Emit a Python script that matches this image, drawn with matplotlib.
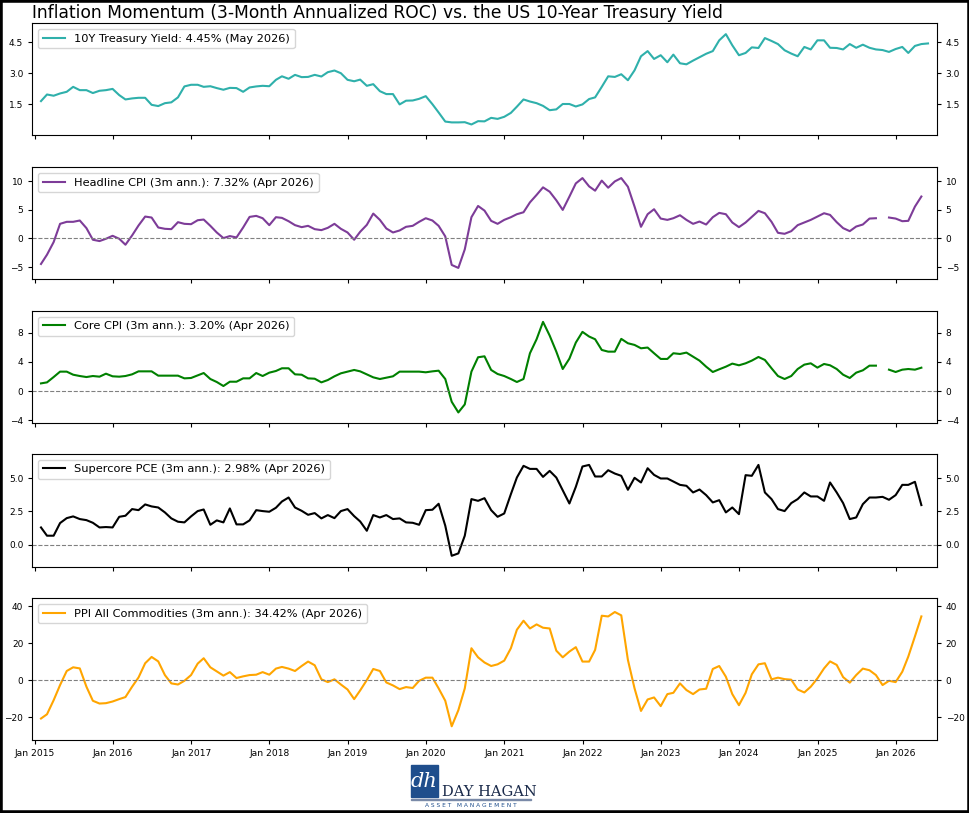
import numpy as np
import pandas as pd
import matplotlib
matplotlib.use('Agg')
import matplotlib.pyplot as plt
import matplotlib.dates as mdates
from matplotlib.patches import Rectangle

nan = np.nan

# month-end dates
dates_ust = pd.date_range('2015-01-31', periods=137, freq='ME')
dates_inf = pd.date_range('2015-01-31', periods=136, freq='ME')

# 10Y treasury yield, month end
ust10 = [1.66, 1.98, 1.92, 2.03, 2.11, 2.35, 2.19, 2.19, 2.05, 2.16, 2.19, 2.25,
         1.95, 1.74, 1.79, 1.82, 1.82, 1.48, 1.42, 1.56, 1.60, 1.84, 2.37, 2.45,
         2.45, 2.35, 2.38, 2.29, 2.21, 2.30, 2.29, 2.11, 2.32, 2.37, 2.40, 2.38,
         2.69, 2.86, 2.74, 2.93, 2.82, 2.83, 2.93, 2.85, 3.06, 3.14, 3.01, 2.69,
         2.62, 2.70, 2.40, 2.48, 2.14, 2.00, 2.00, 1.50, 1.68, 1.69, 1.77, 1.90,
         1.51, 1.11, 0.67, 0.63, 0.63, 0.64, 0.53, 0.69, 0.68, 0.85, 0.80, 0.90,
         1.09, 1.39, 1.74, 1.64, 1.56, 1.43, 1.22, 1.26, 1.52, 1.52, 1.40, 1.50,
         1.76, 1.84, 2.35, 2.86, 2.83, 2.96, 2.67, 3.15, 3.83, 4.08, 3.70, 3.88,
         3.54, 3.91, 3.49, 3.44, 3.62, 3.78, 3.95, 4.08, 4.60, 4.90, 4.36, 3.88,
         3.99, 4.26, 4.23, 4.71, 4.57, 4.42, 4.12, 3.96, 3.83, 4.28, 4.16, 4.60,
         4.60, 4.24, 4.23, 4.16, 4.42, 4.24, 4.39, 4.24, 4.16, 4.13, 4.04, 4.18,
         4.28, 3.99, 4.33, 4.42, 4.45]

# headline CPI, 3m annualized
cpi = [-4.46, -2.84, -0.64, 2.55, 2.90, 2.90, 3.13, 1.80, -0.23, -0.46, -0.06, 0.46,
       -0.06, -1.10, 0.52, 2.26, 3.82, 3.65, 1.91, 1.68, 1.62, 2.84, 2.55, 2.49,
       3.18, 3.30, 2.20, 1.04, 0.06, 0.41, 0.17, 1.91, 3.76, 3.94, 3.53, 2.32,
       3.71, 3.59, 3.01, 2.32, 1.97, 2.20, 1.62, 1.45, 1.85, 2.55, 1.68, 1.04,
       -0.23, 1.16, 2.37, 4.34, 3.24, 1.74, 1.04, 1.39, 2.03, 2.20, 2.90, 3.53,
       3.13, 2.20, 0.35, -4.63, -5.15, -1.91, 3.71, 5.67, 4.86, 3.07, 2.55, 3.24,
       3.71, 4.23, 4.57, 6.30, 7.60, 8.92, 8.16, 6.66, 4.98, 7.30, 9.61, 10.54,
       9.09, 8.34, 10.10, 8.86, 9.96, 10.54, 9.03, 5.56, 2.03, 4.23, 5.10, 3.47,
       3.24, 3.53, 4.05, 3.24, 2.55, 2.95, 2.43, 3.71, 4.46, 4.23, 2.78, 1.97,
       2.78, 3.76, 4.81, 4.40, 2.90, 0.98, 0.81, 1.27, 2.32, 2.78, 3.24, 3.82,
       4.40, 4.11, 2.84, 1.80, 1.27, 2.08, 2.43, 3.47, 3.53, nan, 3.65, 3.47,
       3.01, 3.07, 5.56, 7.32]

# core CPI, 3m annualized
core = [1.05, 1.19, 1.92, 2.66, 2.66, 2.24, 2.06, 1.92, 2.06, 1.97, 2.38, 2.02,
        1.97, 2.06, 2.29, 2.70, 2.70, 2.70, 2.11, 2.11, 2.11, 2.11, 1.74, 1.79,
        2.15, 2.47, 1.65, 1.24, 0.69, 1.28, 1.28, 1.74, 1.74, 2.47, 2.06, 2.52,
        2.75, 3.12, 3.12, 2.29, 2.24, 1.74, 1.69, 1.19, 1.51, 2.02, 2.43, 2.66,
        2.89, 2.70, 2.29, 1.88, 1.65, 1.83, 2.02, 2.66, 2.66, 2.66, 2.66, 2.57,
        2.70, 2.79, 1.65, -1.47, -2.93, -1.83, 2.66, 4.63, 4.76, 2.89, 2.34, 2.06,
        1.65, 1.24, 1.65, 5.18, 7.10, 9.48, 7.60, 5.40, 3.02, 4.44, 6.64, 8.11,
        7.47, 7.10, 5.63, 5.40, 5.40, 7.15, 6.55, 6.32, 5.86, 5.96, 5.18, 4.40,
        4.40, 5.18, 5.08, 5.27, 4.72, 4.17, 3.34, 2.61, 2.98, 3.34, 3.76, 3.53,
        3.80, 4.17, 4.67, 4.26, 3.12, 2.06, 1.65, 2.06, 3.02, 3.62, 3.80, 3.21,
        3.71, 3.53, 3.02, 2.24, 1.79, 2.52, 2.84, 3.48, 3.48, nan, 2.93, 2.61,
        2.93, 3.02, 2.93, 3.20]

# supercore PCE, 3m annualized
supercore = [1.30, 0.68, 0.68, 1.63, 2.00, 2.13, 1.93, 1.85, 1.65, 1.30, 1.33, 1.30,
             2.10, 2.18, 2.68, 2.60, 3.03, 2.88, 2.80, 2.43, 1.98, 1.73, 1.68, 2.13,
             2.53, 2.65, 1.50, 1.83, 1.68, 2.73, 1.53, 1.53, 1.83, 2.60, 2.53, 2.48,
             2.78, 3.25, 3.55, 2.80, 2.55, 2.25, 2.38, 1.98, 2.23, 2.00, 2.53, 2.68,
             2.15, 1.75, 1.05, 2.23, 2.05, 2.23, 1.93, 1.98, 1.68, 1.65, 1.50, 2.60,
             2.63, 3.08, 1.43, -0.83, -0.65, 0.68, 3.43, 3.30, 3.50, 2.60, 2.10, 2.35,
             3.80, 5.05, 5.93, 5.70, 5.70, 5.10, 5.55, 5.05, 4.10, 3.10, 4.35, 5.88,
             6.00, 5.13, 5.13, 5.60, 5.35, 5.18, 4.13, 5.03, 4.68, 5.75, 5.25, 4.98,
             4.98, 4.75, 4.50, 4.43, 3.93, 4.15, 3.73, 3.18, 3.35, 2.43, 2.80, 2.30,
             5.23, 5.18, 6.00, 3.93, 3.43, 2.68, 2.53, 3.13, 3.43, 3.93, 3.63, 3.63,
             3.30, 4.68, 3.93, 3.13, 1.93, 2.05, 3.05, 3.55, 3.55, 3.60, 3.38, 3.73,
             4.50, 4.50, 4.73, 2.98]

# PPI all commodities, 3m annualized
ppi = [-20.8, -18.5, -10.9, -2.7, 4.9, 6.9, 6.3, -3.6, -11.2, -12.7, -12.5, -11.6,
       -10.3, -9.2, -3.6, 1.4, 9.1, 12.5, 10.1, 2.7, -1.8, -2.4, -0.4, 2.7,
       8.9, 11.8, 6.9, 4.7, 2.4, 4.3, 1.1, 2.0, 2.7, 2.9, 4.3, 2.9,
       6.2, 7.1, 6.2, 4.9, 7.6, 10.0, 8.0, 0.4, -1.1, 0.4, -2.4, -5.1,
       -10.3, -5.6, 0.0, 6.0, 4.9, -1.3, -2.9, -4.9, -3.8, -4.3, -0.4, 1.3,
       1.3, -4.5, -11.2, -25.0, -16.3, -4.5, 17.2, 12.3, 9.5, 7.6, 8.5, 10.5,
       17.2, 27.2, 32.1, 27.9, 30.1, 28.3, 27.9, 15.9, 12.3, 15.4, 17.8, 10.0,
       10.0, 16.3, 34.8, 34.4, 36.8, 35.0, 10.9, -4.5, -16.7, -10.5, -9.4, -14.1,
       -7.6, -6.9, -1.8, -5.4, -7.6, -5.1, -4.7, 6.0, 7.6, 1.8, -7.6, -13.6,
       -6.9, 3.1, 8.5, 9.1, 0.4, 1.3, 0.5, 0.2, -5.1, -6.7, -3.6, 0.9,
       6.3, 10.1, 8.2, 1.6, -1.4, 2.7, 6.2, 5.3, 2.7, -2.7, -0.4, -1.1,
       4.5, 12.7, 23.6, 34.42]

labels = ['10Y Treasury Yield: 4.45% (May 2026)',
          'Headline CPI (3m ann.): 7.32% (Apr 2026)',
          'Core CPI (3m ann.): 3.20% (Apr 2026)',
          'Supercore PCE (3m ann.): 2.98% (Apr 2026)',
          'PPI All Commodities (3m ann.): 34.42% (Apr 2026)']
colors = ['#2fb0ab', '#7d3c98', 'green', 'black', 'orange']
series = [(dates_ust, ust10), (dates_inf, cpi), (dates_inf, core),
          (dates_inf, supercore), (dates_inf, ppi)]
yticks = [[1.5, 3.0, 4.5], [-5, 0, 5, 10], [-4, 0, 4, 8], [0.0, 2.5, 5.0],
          [-20, 0, 20, 40]]

W, H = 970, 813
fig = plt.figure(figsize=(W / 100, H / 100), dpi=100)

# panel boxes in pixels: (top, bottom)
boxes = [(23.3, 135.3), (167.3, 278.7), (311, 423.3), (454, 566.7), (598.3, 740)]
left_px, right_px = 32.3, 936.7

axes = []
for i, (top, bot) in enumerate(boxes):
    ax = fig.add_axes([left_px / W, 1 - bot / H, (right_px - left_px) / W, (bot - top) / H],
                      sharex=axes[0] if axes else None)
    d, v = series[i]
    ax.plot(d, v, color=colors[i], lw=1.5, label=labels[i])
    if i > 0:
        ax.axhline(0, color='gray', ls='--', lw=0.8)
    ax.set_ymargin(0.12)
    ax.set_yticks(yticks[i])
    ax.tick_params(axis='y', right=True, labelright=True, labelsize=6.5, length=3)
    ax.tick_params(axis='x', labelsize=6.6, length=3)
    ax.legend(loc='upper left', fontsize=8.2, handlelength=2.0)
    axes.append(ax)

axes[0].set_xmargin(0.0098)
axes[0].xaxis.set_major_locator(mdates.YearLocator())
axes[0].xaxis.set_major_formatter(mdates.DateFormatter('%b %Y'))
for ax in axes[:-1]:
    ax.tick_params(axis='x', labelbottom=False)

fig.text(left_px / W, 1 - 13.5 / H, 'Inflation Momentum (3-Month Annualized ROC) vs. the US 10-Year Treasury Yield',
         fontsize=12.3, va='center', ha='left')

# logo
navy = '#1f4e8c'
fig.patches.append(Rectangle((411 / W, 1 - 797 / H), 27 / W, 32 / H,
                             transform=fig.transFigure, color=navy))
fig.text(424.5 / W, 1 - 781 / H, 'dh', color='white', fontsize=15, family='DejaVu Serif',
         style='italic', ha='center', va='center')
fig.text(442 / W, 1 - 792 / H, 'DAY HAGAN', color='#1a2a4a', fontsize=10.5,
         family='DejaVu Serif', ha='left', va='center')
fig.patches.append(Rectangle((411 / W, 1 - 800 / H), 120 / W, 0.8 / H,
                             transform=fig.transFigure, color='#7a8aa8'))
fig.text(471 / W, 1 - 805 / H, 'A S S E T   M A N A G E M E N T', color=navy, fontsize=4.2,
         ha='center', va='center')

# black frame round the picture
fig.patches.append(Rectangle((0, 0), 1, 1, transform=fig.transFigure, fill=False,
                             edgecolor='black', lw=4))

fig.savefig('out.png', dpi=100)
